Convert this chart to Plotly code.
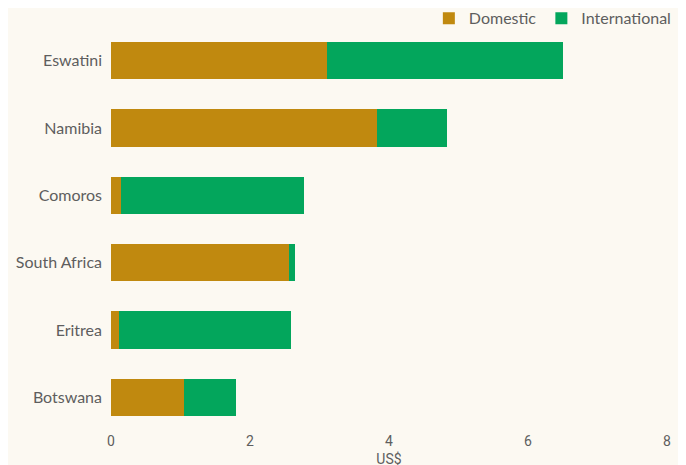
import plotly.graph_objects as go

countries = ["Eswatini", "Namibia", "Comoros", "South Africa", "Eritrea", "Botswana"]
domestic = [3.11, 3.83, 0.14, 2.56, 0.12, 1.05]
international = [3.39, 1.00, 2.64, 0.09, 2.47, 0.75]
x_ticks = [0, 2, 4, 6, 8]

GOLD = "#C0890F"
GREEN = "#03A65C"
BG = "#FCF9F2"
TXT = "#5e5e5e"

fig = go.Figure()
fig.add_trace(go.Bar(y=countries, x=domestic, name="Domestic", orientation="h",
                     marker=dict(color=GOLD, line=dict(width=0))))
fig.add_trace(go.Bar(y=countries, x=international, name="International", orientation="h",
                     marker=dict(color=GREEN, line=dict(width=0))))

fig.update_layout(
    width=686, height=465,
    barmode="stack", bargap=0.45,
    paper_bgcolor=BG, plot_bgcolor=BG,
    margin=dict(l=103, r=27, t=19, b=42, autoexpand=False),
    font=dict(family="Lato, Noto Sans, sans-serif", color=TXT, size=16),
    showlegend=True,
    legend=dict(orientation="h", x=0.975, xanchor="right", y=0.978, yanchor="middle",
                xref="container", yref="container",
                font=dict(size=16, color=TXT), bgcolor="rgba(0,0,0,0)",
                itemwidth=30, traceorder="normal"),
    xaxis=dict(range=[0, 8], tickvals=x_ticks, showgrid=False, zeroline=False,
               showline=False, ticks="", automargin=False,
               tickfont=dict(family="Roboto, sans-serif", size=14, color=TXT),
               title=dict(text="US$", standoff=6, font=dict(family="Roboto, sans-serif", size=14, color=TXT))),
    yaxis=dict(autorange="reversed", showgrid=False, zeroline=False, showline=False,
               ticks="", automargin=False, ticklabelstandoff=8, tickfont=dict(size=16, color=TXT)),
)

fig.write_html("out.html")
